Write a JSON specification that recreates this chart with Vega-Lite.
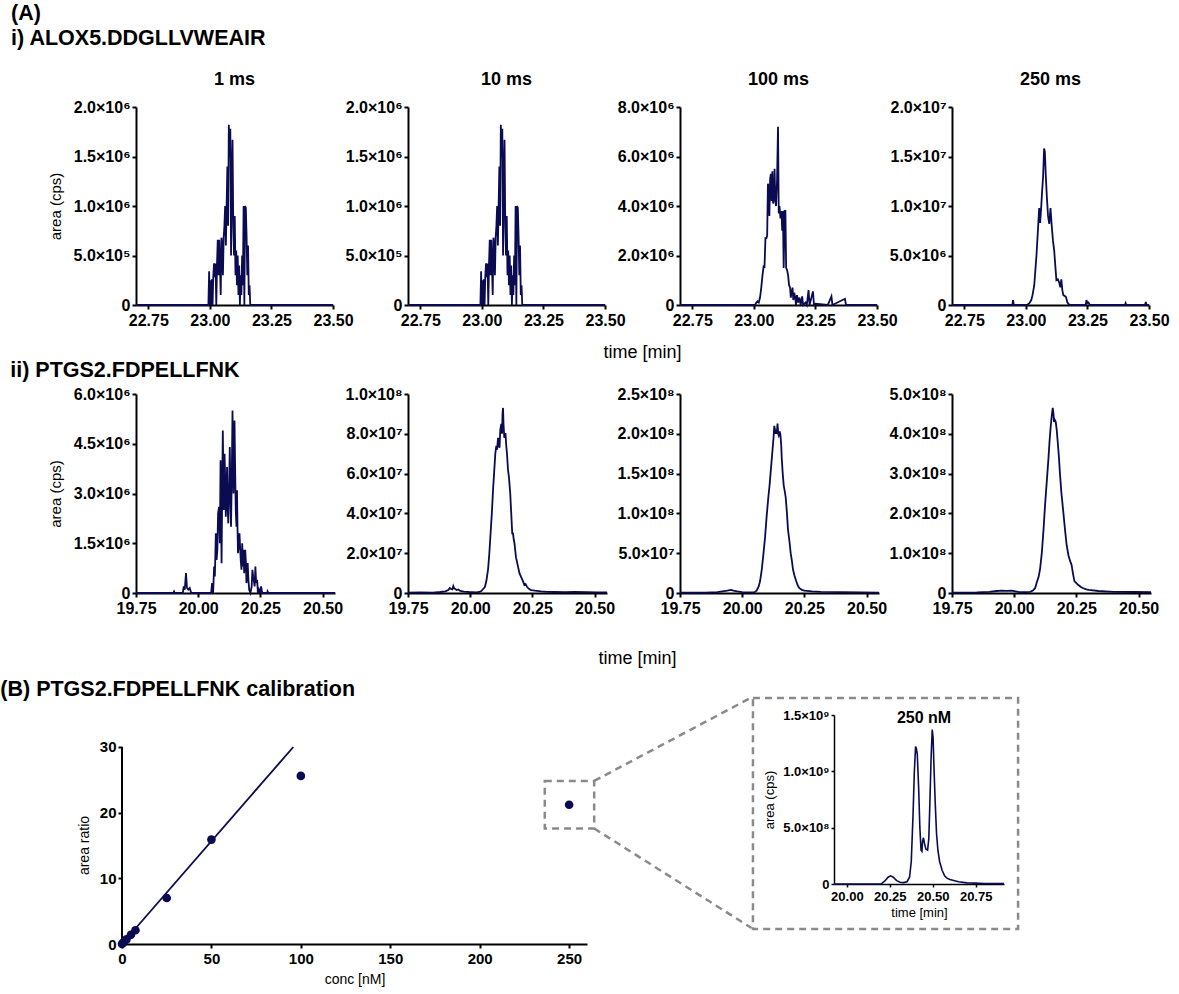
{
 "$schema": "https://vega.github.io/schema/vega-lite/v6.json",
 "background": "white",
 "padding": {"left": 0, "top": 2, "right": 5, "bottom": 2},
 "config": {
  "font": "Liberation Sans",
  "view": {"stroke": null},
  "axis": {"grid": false, "domainColor": "#000", "domainWidth": 2, "tickColor": "#000", "tickWidth": 2, "tickSize": 4, "labelColor": "#000", "labelFont": "Liberation Sans", "labelFontWeight": "bold", "labelFontSize": 16, "labelPadding": 2, "labelFlush": false, "labelOverlap": false, "labelBound": false, "titleColor": "#000", "titleFont": "Liberation Sans", "titleFontWeight": "normal", "titleFontSize": 15, "titlePadding": 10},
  "axisX": {"labelPadding": 3},
  "title": {"color": "#000", "font": "Liberation Sans"}
 },
 "datasets": {
  "a1": [{"t":22.7,"cps":0},{"t":22.994,"cps":0},{"t":22.997,"cps":340000},{"t":22.999,"cps":0},{"t":23.002,"cps":250000},{"t":23.005,"cps":0},{"t":23.008,"cps":260000},{"t":23.011,"cps":0},{"t":23.014,"cps":300000},{"t":23.017,"cps":420000},{"t":23.02,"cps":280000},{"t":23.023,"cps":420000},{"t":23.026,"cps":0},{"t":23.029,"cps":420000},{"t":23.032,"cps":660000},{"t":23.035,"cps":300000},{"t":23.038,"cps":660000},{"t":23.041,"cps":400000},{"t":23.044,"cps":100000},{"t":23.047,"cps":680000},{"t":23.05,"cps":600000},{"t":23.053,"cps":300000},{"t":23.056,"cps":680000},{"t":23.059,"cps":800000},{"t":23.062,"cps":1000000},{"t":23.065,"cps":600000},{"t":23.068,"cps":1000000},{"t":23.071,"cps":1400000},{"t":23.074,"cps":800000},{"t":23.077,"cps":1820000},{"t":23.08,"cps":1500000},{"t":23.083,"cps":1780000},{"t":23.086,"cps":500000},{"t":23.089,"cps":1300000},{"t":23.092,"cps":1670000},{"t":23.095,"cps":800000},{"t":23.098,"cps":500000},{"t":23.101,"cps":900000},{"t":23.104,"cps":300000},{"t":23.107,"cps":550000},{"t":23.11,"cps":200000},{"t":23.113,"cps":500000},{"t":23.116,"cps":100000},{"t":23.119,"cps":400000},{"t":23.122,"cps":0},{"t":23.125,"cps":300000},{"t":23.128,"cps":100000},{"t":23.131,"cps":500000},{"t":23.134,"cps":200000},{"t":23.137,"cps":1000000},{"t":23.14,"cps":0},{"t":23.143,"cps":1000000},{"t":23.146,"cps":980000},{"t":23.149,"cps":700000},{"t":23.152,"cps":300000},{"t":23.155,"cps":600000},{"t":23.158,"cps":100000},{"t":23.161,"cps":200000},{"t":23.164,"cps":0},{"t":23.5,"cps":0}],
  "a100": [{"t":22.7,"cps":0},{"t":23.005,"cps":0},{"t":23.01,"cps":100000},{"t":23.015,"cps":150000},{"t":23.02,"cps":100000},{"t":23.025,"cps":300000},{"t":23.03,"cps":700000},{"t":23.035,"cps":1200000},{"t":23.04,"cps":1600000},{"t":23.043,"cps":1500000},{"t":23.047,"cps":2700000},{"t":23.051,"cps":2700000},{"t":23.054,"cps":2800000},{"t":23.057,"cps":4900000},{"t":23.06,"cps":4800000},{"t":23.063,"cps":3600000},{"t":23.066,"cps":5100000},{"t":23.069,"cps":5300000},{"t":23.072,"cps":4200000},{"t":23.075,"cps":5400000},{"t":23.078,"cps":4100000},{"t":23.081,"cps":4300000},{"t":23.084,"cps":5500000},{"t":23.087,"cps":4200000},{"t":23.09,"cps":4000000},{"t":23.094,"cps":5000000},{"t":23.098,"cps":7200000},{"t":23.101,"cps":3700000},{"t":23.104,"cps":4000000},{"t":23.108,"cps":3500000},{"t":23.112,"cps":3800000},{"t":23.115,"cps":3000000},{"t":23.118,"cps":3800000},{"t":23.121,"cps":1500000},{"t":23.125,"cps":3800000},{"t":23.128,"cps":3800000},{"t":23.131,"cps":1500000},{"t":23.135,"cps":1400000},{"t":23.139,"cps":1200000},{"t":23.143,"cps":800000},{"t":23.147,"cps":700000},{"t":23.15,"cps":300000},{"t":23.153,"cps":500000},{"t":23.157,"cps":700000},{"t":23.16,"cps":200000},{"t":23.164,"cps":500000},{"t":23.168,"cps":300000},{"t":23.171,"cps":0},{"t":23.175,"cps":400000},{"t":23.18,"cps":100000},{"t":23.185,"cps":300000},{"t":23.19,"cps":0},{"t":23.196,"cps":350000},{"t":23.2,"cps":0},{"t":23.21,"cps":100000},{"t":23.215,"cps":0},{"t":23.222,"cps":600000},{"t":23.226,"cps":0},{"t":23.24,"cps":550000},{"t":23.244,"cps":0},{"t":23.25,"cps":50000},{"t":23.3,"cps":0},{"t":23.315,"cps":350000},{"t":23.319,"cps":0},{"t":23.37,"cps":250000},{"t":23.374,"cps":0},{"t":23.5,"cps":0}],
  "a250": [{"t":22.7,"cps":0},{"t":22.945,"cps":0},{"t":22.948,"cps":500000},{"t":22.951,"cps":0},{"t":23.005,"cps":0},{"t":23.015,"cps":200000},{"t":23.022,"cps":500000},{"t":23.027,"cps":1000000},{"t":23.034,"cps":2000000},{"t":23.043,"cps":5000000},{"t":23.05,"cps":8000000},{"t":23.054,"cps":9800000},{"t":23.058,"cps":8300000},{"t":23.062,"cps":9800000},{"t":23.066,"cps":11500000},{"t":23.07,"cps":13000000},{"t":23.074,"cps":15800000},{"t":23.077,"cps":15500000},{"t":23.081,"cps":13000000},{"t":23.085,"cps":11000000},{"t":23.09,"cps":9000000},{"t":23.095,"cps":8200000},{"t":23.1,"cps":9800000},{"t":23.105,"cps":8000000},{"t":23.11,"cps":6500000},{"t":23.115,"cps":5500000},{"t":23.12,"cps":3800000},{"t":23.124,"cps":2500000},{"t":23.13,"cps":2600000},{"t":23.135,"cps":2300000},{"t":23.14,"cps":1800000},{"t":23.144,"cps":2600000},{"t":23.148,"cps":1500000},{"t":23.152,"cps":1000000},{"t":23.158,"cps":900000},{"t":23.163,"cps":800000},{"t":23.168,"cps":300000},{"t":23.173,"cps":100000},{"t":23.18,"cps":0},{"t":23.243,"cps":0},{"t":23.246,"cps":500000},{"t":23.25,"cps":200000},{"t":23.254,"cps":250000},{"t":23.26,"cps":0},{"t":23.402,"cps":0},{"t":23.405,"cps":200000},{"t":23.408,"cps":0},{"t":23.484,"cps":0},{"t":23.487,"cps":300000},{"t":23.49,"cps":0},{"t":23.5,"cps":0}],
  "p1": [{"t":19.75,"cps":0},{"t":19.9,"cps":0},{"t":19.903,"cps":50000},{"t":19.906,"cps":0},{"t":19.938,"cps":0},{"t":19.942,"cps":200000},{"t":19.946,"cps":100000},{"t":19.951,"cps":600000},{"t":19.955,"cps":150000},{"t":19.96,"cps":100000},{"t":19.966,"cps":150000},{"t":19.972,"cps":0},{"t":20.052,"cps":0},{"t":20.056,"cps":300000},{"t":20.06,"cps":0},{"t":20.064,"cps":800000},{"t":20.067,"cps":500000},{"t":20.071,"cps":1800000},{"t":20.074,"cps":1000000},{"t":20.077,"cps":1300000},{"t":20.08,"cps":2400000},{"t":20.084,"cps":2600000},{"t":20.087,"cps":1500000},{"t":20.09,"cps":4000000},{"t":20.094,"cps":900000},{"t":20.097,"cps":3500000},{"t":20.099,"cps":4900000},{"t":20.103,"cps":2500000},{"t":20.106,"cps":4200000},{"t":20.109,"cps":3300000},{"t":20.111,"cps":2300000},{"t":20.114,"cps":3000000},{"t":20.116,"cps":3800000},{"t":20.119,"cps":2500000},{"t":20.121,"cps":2100000},{"t":20.124,"cps":3000000},{"t":20.127,"cps":4400000},{"t":20.13,"cps":2800000},{"t":20.132,"cps":2000000},{"t":20.135,"cps":3500000},{"t":20.138,"cps":5500000},{"t":20.14,"cps":4200000},{"t":20.142,"cps":3000000},{"t":20.146,"cps":5200000},{"t":20.149,"cps":3500000},{"t":20.151,"cps":2500000},{"t":20.154,"cps":2000000},{"t":20.156,"cps":3100000},{"t":20.158,"cps":2000000},{"t":20.16,"cps":1200000},{"t":20.163,"cps":1500000},{"t":20.166,"cps":1800000},{"t":20.169,"cps":1300000},{"t":20.171,"cps":1000000},{"t":20.174,"cps":700000},{"t":20.177,"cps":1500000},{"t":20.18,"cps":800000},{"t":20.182,"cps":1300000},{"t":20.185,"cps":600000},{"t":20.189,"cps":1300000},{"t":20.192,"cps":900000},{"t":20.194,"cps":300000},{"t":20.197,"cps":500000},{"t":20.199,"cps":900000},{"t":20.202,"cps":400000},{"t":20.205,"cps":100000},{"t":20.21,"cps":0},{"t":20.215,"cps":200000},{"t":20.218,"cps":700000},{"t":20.221,"cps":500000},{"t":20.223,"cps":400000},{"t":20.227,"cps":200000},{"t":20.23,"cps":800000},{"t":20.233,"cps":300000},{"t":20.237,"cps":400000},{"t":20.24,"cps":0},{"t":20.244,"cps":100000},{"t":20.248,"cps":0},{"t":20.253,"cps":200000},{"t":20.257,"cps":0},{"t":20.277,"cps":0},{"t":20.279,"cps":50000},{"t":20.282,"cps":0},{"t":20.55,"cps":0}],
  "p10": [{"t":19.75,"cps":200000},{"t":19.8,"cps":300000},{"t":19.85,"cps":200000},{"t":19.88,"cps":500000},{"t":19.9,"cps":800000},{"t":19.912,"cps":1500000},{"t":19.918,"cps":2500000},{"t":19.923,"cps":2000000},{"t":19.928,"cps":1800000},{"t":19.932,"cps":3500000},{"t":19.936,"cps":2200000},{"t":19.94,"cps":2000000},{"t":19.946,"cps":1500000},{"t":19.952,"cps":1800000},{"t":19.958,"cps":1200000},{"t":19.965,"cps":1000000},{"t":19.975,"cps":700000},{"t":19.985,"cps":600000},{"t":19.995,"cps":500000},{"t":20.01,"cps":400000},{"t":20.025,"cps":300000},{"t":20.035,"cps":500000},{"t":20.045,"cps":1000000},{"t":20.052,"cps":2000000},{"t":20.059,"cps":3000000},{"t":20.065,"cps":6000000},{"t":20.072,"cps":12000000},{"t":20.077,"cps":20000000},{"t":20.082,"cps":30000000},{"t":20.087,"cps":40000000},{"t":20.092,"cps":52000000},{"t":20.096,"cps":60000000},{"t":20.101,"cps":70000000},{"t":20.105,"cps":74000000},{"t":20.108,"cps":72000000},{"t":20.112,"cps":78000000},{"t":20.115,"cps":74000000},{"t":20.118,"cps":73000000},{"t":20.121,"cps":82000000},{"t":20.125,"cps":85000000},{"t":20.128,"cps":80000000},{"t":20.13,"cps":90000000},{"t":20.132,"cps":93000000},{"t":20.134,"cps":85000000},{"t":20.137,"cps":78000000},{"t":20.14,"cps":80000000},{"t":20.142,"cps":80000000},{"t":20.145,"cps":74000000},{"t":20.148,"cps":70000000},{"t":20.152,"cps":62000000},{"t":20.156,"cps":58000000},{"t":20.161,"cps":50000000},{"t":20.165,"cps":40000000},{"t":20.169,"cps":30000000},{"t":20.172,"cps":30000000},{"t":20.175,"cps":27000000},{"t":20.178,"cps":25000000},{"t":20.184,"cps":18000000},{"t":20.191,"cps":14000000},{"t":20.198,"cps":10000000},{"t":20.205,"cps":8000000},{"t":20.212,"cps":6000000},{"t":20.218,"cps":4000000},{"t":20.223,"cps":4500000},{"t":20.229,"cps":3000000},{"t":20.237,"cps":2000000},{"t":20.245,"cps":1500000},{"t":20.26,"cps":1200000},{"t":20.285,"cps":800000},{"t":20.31,"cps":600000},{"t":20.338,"cps":500000},{"t":20.38,"cps":400000},{"t":20.42,"cps":500000},{"t":20.47,"cps":400000},{"t":20.51,"cps":300000},{"t":20.55,"cps":300000}],
  "p100": [{"t":19.75,"cps":300000},{"t":19.85,"cps":400000},{"t":19.9,"cps":1000000},{"t":19.92,"cps":2000000},{"t":19.94,"cps":3000000},{"t":19.955,"cps":4000000},{"t":19.965,"cps":3000000},{"t":19.98,"cps":2000000},{"t":20.0,"cps":1000000},{"t":20.03,"cps":800000},{"t":20.05,"cps":1000000},{"t":20.058,"cps":3000000},{"t":20.066,"cps":8000000},{"t":20.072,"cps":15000000},{"t":20.079,"cps":30000000},{"t":20.085,"cps":48000000},{"t":20.092,"cps":70000000},{"t":20.098,"cps":95000000},{"t":20.105,"cps":120000000},{"t":20.11,"cps":135000000},{"t":20.114,"cps":150000000},{"t":20.118,"cps":165000000},{"t":20.122,"cps":180000000},{"t":20.126,"cps":195000000},{"t":20.129,"cps":210000000},{"t":20.132,"cps":205000000},{"t":20.134,"cps":200000000},{"t":20.137,"cps":205000000},{"t":20.139,"cps":200000000},{"t":20.142,"cps":213000000},{"t":20.145,"cps":200000000},{"t":20.147,"cps":198000000},{"t":20.151,"cps":203000000},{"t":20.154,"cps":198000000},{"t":20.157,"cps":185000000},{"t":20.159,"cps":170000000},{"t":20.163,"cps":150000000},{"t":20.167,"cps":135000000},{"t":20.171,"cps":128000000},{"t":20.175,"cps":120000000},{"t":20.18,"cps":100000000},{"t":20.184,"cps":80000000},{"t":20.19,"cps":65000000},{"t":20.195,"cps":50000000},{"t":20.2,"cps":40000000},{"t":20.204,"cps":30000000},{"t":20.21,"cps":22000000},{"t":20.217,"cps":15000000},{"t":20.224,"cps":9000000},{"t":20.23,"cps":6000000},{"t":20.24,"cps":4000000},{"t":20.25,"cps":3000000},{"t":20.28,"cps":2000000},{"t":20.316,"cps":1500000},{"t":20.4,"cps":1000000},{"t":20.48,"cps":800000},{"t":20.55,"cps":500000}],
  "p250": [{"t":19.75,"cps":1000000},{"t":19.85,"cps":1500000},{"t":19.9,"cps":3000000},{"t":19.93,"cps":5000000},{"t":19.95,"cps":6000000},{"t":19.97,"cps":5500000},{"t":19.99,"cps":6000000},{"t":20.0,"cps":5000000},{"t":20.02,"cps":2000000},{"t":20.05,"cps":2000000},{"t":20.065,"cps":3000000},{"t":20.075,"cps":6000000},{"t":20.084,"cps":12000000},{"t":20.09,"cps":25000000},{"t":20.098,"cps":40000000},{"t":20.104,"cps":60000000},{"t":20.111,"cps":100000000},{"t":20.118,"cps":160000000},{"t":20.124,"cps":220000000},{"t":20.131,"cps":280000000},{"t":20.138,"cps":340000000},{"t":20.142,"cps":380000000},{"t":20.147,"cps":420000000},{"t":20.151,"cps":445000000},{"t":20.155,"cps":465000000},{"t":20.158,"cps":450000000},{"t":20.16,"cps":430000000},{"t":20.163,"cps":435000000},{"t":20.167,"cps":430000000},{"t":20.171,"cps":410000000},{"t":20.175,"cps":380000000},{"t":20.18,"cps":340000000},{"t":20.184,"cps":300000000},{"t":20.19,"cps":250000000},{"t":20.198,"cps":200000000},{"t":20.205,"cps":155000000},{"t":20.211,"cps":120000000},{"t":20.218,"cps":95000000},{"t":20.225,"cps":80000000},{"t":20.228,"cps":75000000},{"t":20.231,"cps":70000000},{"t":20.236,"cps":50000000},{"t":20.242,"cps":30000000},{"t":20.25,"cps":25000000},{"t":20.258,"cps":20000000},{"t":20.268,"cps":15000000},{"t":20.278,"cps":12000000},{"t":20.29,"cps":9000000},{"t":20.3,"cps":8000000},{"t":20.338,"cps":5000000},{"t":20.4,"cps":3000000},{"t":20.48,"cps":2500000},{"t":20.55,"cps":2000000}],
  "inset": [{"t":19.925,"cps":0},{"t":20.15,"cps":0},{"t":20.2,"cps":2000000},{"t":20.22,"cps":25000000},{"t":20.24,"cps":60000000},{"t":20.255,"cps":72000000},{"t":20.27,"cps":60000000},{"t":20.29,"cps":30000000},{"t":20.31,"cps":15000000},{"t":20.33,"cps":12000000},{"t":20.35,"cps":20000000},{"t":20.365,"cps":60000000},{"t":20.375,"cps":200000000},{"t":20.385,"cps":600000000},{"t":20.393,"cps":1000000000},{"t":20.4,"cps":1220000000},{"t":20.405,"cps":1200000000},{"t":20.41,"cps":1150000000},{"t":20.418,"cps":850000000},{"t":20.425,"cps":500000000},{"t":20.432,"cps":300000000},{"t":20.437,"cps":290000000},{"t":20.441,"cps":380000000},{"t":20.446,"cps":410000000},{"t":20.452,"cps":360000000},{"t":20.46,"cps":310000000},{"t":20.47,"cps":300000000},{"t":20.477,"cps":400000000},{"t":20.483,"cps":700000000},{"t":20.49,"cps":1100000000},{"t":20.497,"cps":1370000000},{"t":20.502,"cps":1300000000},{"t":20.508,"cps":1000000000},{"t":20.515,"cps":700000000},{"t":20.522,"cps":450000000},{"t":20.53,"cps":300000000},{"t":20.54,"cps":200000000},{"t":20.555,"cps":120000000},{"t":20.57,"cps":70000000},{"t":20.585,"cps":50000000},{"t":20.6,"cps":40000000},{"t":20.65,"cps":20000000},{"t":20.7,"cps":10000000},{"t":20.75,"cps":8000000},{"t":20.8,"cps":5000000},{"t":20.915,"cps":3000000}],
  "insetbox": [{"t":19.453,"t2":20.997,"cps":-399000000,"cps2":1651000000}],
  "calib": [{"conc":0,"ratio":0},{"conc":0.5,"ratio":0.15},{"conc":1,"ratio":0.3},{"conc":2.5,"ratio":0.7},{"conc":5,"ratio":1.4},{"conc":7.5,"ratio":2.1},{"conc":25,"ratio":7.0},{"conc":50,"ratio":15.9},{"conc":100,"ratio":25.6},{"conc":250,"ratio":21.2}],
  "fit": [{"conc":0,"ratio":0},{"conc":95.8,"ratio":30}],
  "yaxisline": [{"conc":0,"ratio":0,"ratio2":30}],
  "zoombox": [{"conc":236.4,"conc2":264,"ratio":17.59,"ratio2":24.83}],
  "connectors": [{"conc":264,"ratio":24.83,"conc2":352,"ratio2":37.55},{"conc":264,"ratio":17.59,"conc2":352,"ratio2":2.43}]
 },
 "columns": 1,
 "spacing": 10,
 "concat": [
  {
   "spacing": -3,
   "vconcat": [
    {
     "title": {"text": ["(A)", "i) ALOX5.DDGLLVWEAIR"], "anchor": "start", "fontSize": 21.5, "fontWeight": "bold", "lineHeight": 25, "dx": -37, "offset": 22},
     "vconcat": [
      {
       "title": {"text": "time [min]", "orient": "bottom", "anchor": "middle", "frame": "bounds", "fontSize": 18, "fontWeight": "normal", "offset": 16, "dx": 34},
       "bounds": "flush",
       "spacing": 75,
       "hconcat": [
        {
         "title": {"text": "1 ms", "fontSize": 18, "fontWeight": "bold", "offset": 10},
         "width": 197, "height": 198,
         "data": {"name": "a1"},
         "mark": {"type": "line", "color": "#0b0b52", "strokeWidth": 1.8},
         "encoding": {
          "x": {"field": "t", "type": "quantitative", "scale": {"domain": [22.7, 23.5], "nice": false, "zero": false}, "axis": {"values": [22.75, 23, 23.25, 23.5], "format": ".2f", "title": null}},
          "y": {"field": "cps", "type": "quantitative", "scale": {"domain": [0, 2000000], "nice": false}, "axis": {"values": [0, 500000, 1000000, 1500000, 2000000], "labelExpr": "datum.value == 0 ? '0' : format(datum.value / pow(10, floor(log(datum.value) / LN10 + 1e-9)), '.1f') + '×10' + ['⁰','¹','²','³','⁴','⁵','⁶','⁷','⁸','⁹'][floor(log(datum.value) / LN10 + 1e-9)]", "title": "area (cps)"}}
         }
        },
        {
         "title": {"text": "10 ms", "fontSize": 18, "fontWeight": "bold", "offset": 10},
         "width": 197, "height": 198,
         "data": {"name": "a1"},
         "mark": {"type": "line", "color": "#0b0b52", "strokeWidth": 1.8},
         "encoding": {
          "x": {"field": "t", "type": "quantitative", "scale": {"domain": [22.7, 23.5], "nice": false, "zero": false}, "axis": {"values": [22.75, 23, 23.25, 23.5], "format": ".2f", "title": null}},
          "y": {"field": "cps", "type": "quantitative", "scale": {"domain": [0, 2000000], "nice": false}, "axis": {"values": [0, 500000, 1000000, 1500000, 2000000], "labelExpr": "datum.value == 0 ? '0' : format(datum.value / pow(10, floor(log(datum.value) / LN10 + 1e-9)), '.1f') + '×10' + ['⁰','¹','²','³','⁴','⁵','⁶','⁷','⁸','⁹'][floor(log(datum.value) / LN10 + 1e-9)]", "title": null}}
         }
        },
        {
         "title": {"text": "100 ms", "fontSize": 18, "fontWeight": "bold", "offset": 10},
         "width": 197, "height": 198,
         "data": {"name": "a100"},
         "mark": {"type": "line", "color": "#0b0b52", "strokeWidth": 1.8},
         "encoding": {
          "x": {"field": "t", "type": "quantitative", "scale": {"domain": [22.7, 23.5], "nice": false, "zero": false}, "axis": {"values": [22.75, 23, 23.25, 23.5], "format": ".2f", "title": null}},
          "y": {"field": "cps", "type": "quantitative", "scale": {"domain": [0, 8000000], "nice": false}, "axis": {"values": [0, 2000000, 4000000, 6000000, 8000000], "labelExpr": "datum.value == 0 ? '0' : format(datum.value / pow(10, floor(log(datum.value) / LN10 + 1e-9)), '.1f') + '×10' + ['⁰','¹','²','³','⁴','⁵','⁶','⁷','⁸','⁹'][floor(log(datum.value) / LN10 + 1e-9)]", "title": null}}
         }
        },
        {
         "title": {"text": "250 ms", "fontSize": 18, "fontWeight": "bold", "offset": 10},
         "width": 197, "height": 198,
         "data": {"name": "a250"},
         "mark": {"type": "line", "color": "#0b0b52", "strokeWidth": 1.8},
         "encoding": {
          "x": {"field": "t", "type": "quantitative", "scale": {"domain": [22.7, 23.5], "nice": false, "zero": false}, "axis": {"values": [22.75, 23, 23.25, 23.5], "format": ".2f", "title": null}},
          "y": {"field": "cps", "type": "quantitative", "scale": {"domain": [0, 20000000], "nice": false}, "axis": {"values": [0, 5000000, 10000000, 15000000, 20000000], "labelExpr": "datum.value == 0 ? '0' : format(datum.value / pow(10, floor(log(datum.value) / LN10 + 1e-9)), '.1f') + '×10' + ['⁰','¹','²','³','⁴','⁵','⁶','⁷','⁸','⁹'][floor(log(datum.value) / LN10 + 1e-9)]", "title": null}}
         }
        }
       ]
      }
     ]
    },
    {
     "title": {"text": "ii) PTGS2.FDPELLFNK", "anchor": "start", "fontSize": 21.5, "fontWeight": "bold", "dx": -38, "offset": 5},
     "vconcat": [
      {
       "title": {"text": "time [min]", "orient": "bottom", "anchor": "middle", "frame": "bounds", "fontSize": 18, "fontWeight": "normal", "offset": 34, "dx": 34},
       "bounds": "flush",
       "spacing": 73,
       "hconcat": [
        {
         "width": 199, "height": 199,
         "data": {"name": "p1"},
         "mark": {"type": "line", "color": "#0b0b52", "strokeWidth": 1.8},
         "encoding": {
          "x": {"field": "t", "type": "quantitative", "scale": {"domain": [19.75, 20.55], "nice": false, "zero": false}, "axis": {"values": [19.75, 20, 20.25, 20.5], "format": ".2f", "title": null}},
          "y": {"field": "cps", "type": "quantitative", "scale": {"domain": [0, 6000000], "nice": false}, "axis": {"values": [0, 1500000, 3000000, 4500000, 6000000], "labelExpr": "datum.value == 0 ? '0' : format(datum.value / pow(10, floor(log(datum.value) / LN10 + 1e-9)), '.1f') + '×10' + ['⁰','¹','²','³','⁴','⁵','⁶','⁷','⁸','⁹'][floor(log(datum.value) / LN10 + 1e-9)]", "title": "area (cps)"}}
         }
        },
        {
         "width": 199, "height": 199,
         "data": {"name": "p10"},
         "mark": {"type": "line", "color": "#0b0b52", "strokeWidth": 1.8},
         "encoding": {
          "x": {"field": "t", "type": "quantitative", "scale": {"domain": [19.75, 20.55], "nice": false, "zero": false}, "axis": {"values": [19.75, 20, 20.25, 20.5], "format": ".2f", "title": null}},
          "y": {"field": "cps", "type": "quantitative", "scale": {"domain": [0, 100000000], "nice": false}, "axis": {"values": [0, 20000000, 40000000, 60000000, 80000000, 100000000], "labelExpr": "datum.value == 0 ? '0' : format(datum.value / pow(10, floor(log(datum.value) / LN10 + 1e-9)), '.1f') + '×10' + ['⁰','¹','²','³','⁴','⁵','⁶','⁷','⁸','⁹'][floor(log(datum.value) / LN10 + 1e-9)]", "title": null}}
         }
        },
        {
         "width": 199, "height": 199,
         "data": {"name": "p100"},
         "mark": {"type": "line", "color": "#0b0b52", "strokeWidth": 1.8},
         "encoding": {
          "x": {"field": "t", "type": "quantitative", "scale": {"domain": [19.75, 20.55], "nice": false, "zero": false}, "axis": {"values": [19.75, 20, 20.25, 20.5], "format": ".2f", "title": null}},
          "y": {"field": "cps", "type": "quantitative", "scale": {"domain": [0, 250000000], "nice": false}, "axis": {"values": [0, 50000000, 100000000, 150000000, 200000000, 250000000], "labelExpr": "datum.value == 0 ? '0' : format(datum.value / pow(10, floor(log(datum.value) / LN10 + 1e-9)), '.1f') + '×10' + ['⁰','¹','²','³','⁴','⁵','⁶','⁷','⁸','⁹'][floor(log(datum.value) / LN10 + 1e-9)]", "title": null}}
         }
        },
        {
         "width": 199, "height": 199,
         "data": {"name": "p250"},
         "mark": {"type": "line", "color": "#0b0b52", "strokeWidth": 1.8},
         "encoding": {
          "x": {"field": "t", "type": "quantitative", "scale": {"domain": [19.75, 20.55], "nice": false, "zero": false}, "axis": {"values": [19.75, 20, 20.25, 20.5], "format": ".2f", "title": null}},
          "y": {"field": "cps", "type": "quantitative", "scale": {"domain": [0, 500000000], "nice": false}, "axis": {"values": [0, 100000000, 200000000, 300000000, 400000000, 500000000], "labelExpr": "datum.value == 0 ? '0' : format(datum.value / pow(10, floor(log(datum.value) / LN10 + 1e-9)), '.1f') + '×10' + ['⁰','¹','²','³','⁴','⁵','⁶','⁷','⁸','⁹'][floor(log(datum.value) / LN10 + 1e-9)]", "title": null}}
         }
        }
       ]
      }
     ]
    }
   ]
  },
  {
   "title": {"text": "(B) PTGS2.FDPELLFNK calibration", "anchor": "start", "fontSize": 21.5, "fontWeight": "bold", "dx": -77, "offset": -4},
   "spacing": -2,
   "hconcat": [
    {
     "width": 465, "height": 229,
     "layer": [
      {"data": {"name": "yaxisline"}, "mark": {"type": "rule", "color": "#000", "strokeWidth": 2, "clip": false},
       "encoding": {
        "x": {"field": "conc", "type": "quantitative", "scale": {"domain": [0, 260], "range": [-14, 451], "nice": false, "zero": false}, "axis": {"values": [0, 50, 100, 150, 200, 250], "title": "conc [nM]", "labelFontSize": 15, "titleFontSize": 14, "titlePadding": 6}},
        "y": {"field": "ratio", "type": "quantitative", "scale": {"domain": [0, 34.87], "nice": false}, "axis": {"values": [0, 10, 20, 30], "domain": false, "offset": 14, "title": "area ratio", "titleY": 130, "labelFontSize": 15, "titleFontSize": 14, "titlePadding": 8}},
        "y2": {"field": "ratio2"}
       }},
      {"data": {"name": "fit"}, "mark": {"type": "line", "color": "#0b0b52", "strokeWidth": 1.8, "clip": false},
       "encoding": {
        "x": {"field": "conc", "type": "quantitative", "scale": {"domain": [0, 260], "range": [-14, 451], "nice": false, "zero": false}, "axis": {"values": [0, 50, 100, 150, 200, 250], "title": "conc [nM]", "labelFontSize": 15, "titleFontSize": 14, "titlePadding": 6}},
        "y": {"field": "ratio", "type": "quantitative", "scale": {"domain": [0, 34.87], "nice": false}, "axis": {"values": [0, 10, 20, 30], "domain": false, "offset": 14, "title": "area ratio", "titleY": 130, "labelFontSize": 15, "titleFontSize": 14, "titlePadding": 8}}
       }},
      {"data": {"name": "calib"}, "mark": {"type": "circle", "color": "#0b0b52", "size": 75, "opacity": 1, "clip": false},
       "encoding": {
        "x": {"field": "conc", "type": "quantitative", "scale": {"domain": [0, 260], "range": [-14, 451], "nice": false, "zero": false}, "axis": {"values": [0, 50, 100, 150, 200, 250], "title": "conc [nM]", "labelFontSize": 15, "titleFontSize": 14, "titlePadding": 6}},
        "y": {"field": "ratio", "type": "quantitative", "scale": {"domain": [0, 34.87], "nice": false}, "axis": {"values": [0, 10, 20, 30], "domain": false, "offset": 14, "title": "area ratio", "titleY": 130, "labelFontSize": 15, "titleFontSize": 14, "titlePadding": 8}}
       }},
      {"data": {"name": "zoombox"}, "mark": {"type": "rect", "fillOpacity": 0, "stroke": "#8a8a8a", "strokeWidth": 2.5, "strokeDash": [7, 5], "clip": false},
       "encoding": {
        "x": {"field": "conc", "type": "quantitative", "scale": {"domain": [0, 260], "range": [-14, 451], "nice": false, "zero": false}, "axis": {"values": [0, 50, 100, 150, 200, 250], "title": "conc [nM]", "labelFontSize": 15, "titleFontSize": 14, "titlePadding": 6}},
        "x2": {"field": "conc2"},
        "y": {"field": "ratio", "type": "quantitative", "scale": {"domain": [0, 34.87], "nice": false}, "axis": {"values": [0, 10, 20, 30], "domain": false, "offset": 14, "title": "area ratio", "titleY": 130, "labelFontSize": 15, "titleFontSize": 14, "titlePadding": 8}},
        "y2": {"field": "ratio2"}
       }},
      {"data": {"name": "connectors"}, "mark": {"type": "rule", "stroke": "#8a8a8a", "strokeWidth": 2.5, "strokeDash": [7, 5], "clip": false},
       "encoding": {
        "x": {"field": "conc", "type": "quantitative", "scale": {"domain": [0, 260], "range": [-14, 451], "nice": false, "zero": false}, "axis": {"values": [0, 50, 100, 150, 200, 250], "title": "conc [nM]", "labelFontSize": 15, "titleFontSize": 14, "titlePadding": 6}},
        "x2": {"field": "conc2"},
        "y": {"field": "ratio", "type": "quantitative", "scale": {"domain": [0, 34.87], "nice": false}, "axis": {"values": [0, 10, 20, 30], "domain": false, "offset": 14, "title": "area ratio", "titleY": 130, "labelFontSize": 15, "titleFontSize": 14, "titlePadding": 8}},
        "y2": {"field": "ratio2"}
       }}
     ]
    },
    {
     "width": 170, "height": 169,
     "title": {"text": "250 nM", "fontSize": 16, "fontWeight": "bold", "anchor": "middle", "frame": "group", "offset": -29, "dx": 5},
     "layer": [
      {"data": {"name": "insetbox"}, "mark": {"type": "rect", "fillOpacity": 0, "stroke": "#8a8a8a", "strokeWidth": 2.5, "strokeDash": [7, 5], "clip": false},
       "encoding": {
        "x": {"field": "t", "type": "quantitative", "scale": {"domain": [19.925, 20.915], "nice": false, "zero": false}, "axis": {"values": [20, 20.25, 20.5, 20.75], "format": ".2f", "title": "time [min]", "labelFontSize": 13, "titleFontSize": 13, "tickSize": 3, "tickWidth": 1.5, "domainWidth": 1.5, "labelPadding": 3, "titlePadding": 3}},
        "x2": {"field": "t2"},
        "y": {"field": "cps", "type": "quantitative", "scale": {"domain": [0, 1500000000], "nice": false}, "axis": {"values": [0, 500000000, 1000000000, 1500000000], "labelExpr": "datum.value == 0 ? '0' : format(datum.value / pow(10, floor(log(datum.value) / LN10 + 1e-9)), '.1f') + '×10' + ['⁰','¹','²','³','⁴','⁵','⁶','⁷','⁸','⁹'][floor(log(datum.value) / LN10 + 1e-9)]", "title": "area (cps)", "labelFontSize": 13, "titleFontSize": 13, "tickSize": 3, "tickWidth": 1.5, "domainWidth": 1.5, "titlePadding": 6}},
        "y2": {"field": "cps2"}
       }},
      {"data": {"name": "inset"}, "mark": {"type": "line", "color": "#0b0b52", "strokeWidth": 1.6},
       "encoding": {
        "x": {"field": "t", "type": "quantitative", "scale": {"domain": [19.925, 20.915], "nice": false, "zero": false}, "axis": {"values": [20, 20.25, 20.5, 20.75], "format": ".2f", "title": "time [min]", "labelFontSize": 13, "titleFontSize": 13, "tickSize": 3, "tickWidth": 1.5, "domainWidth": 1.5, "labelPadding": 3, "titlePadding": 3}},
        "y": {"field": "cps", "type": "quantitative", "scale": {"domain": [0, 1500000000], "nice": false}, "axis": {"values": [0, 500000000, 1000000000, 1500000000], "labelExpr": "datum.value == 0 ? '0' : format(datum.value / pow(10, floor(log(datum.value) / LN10 + 1e-9)), '.1f') + '×10' + ['⁰','¹','²','³','⁴','⁵','⁶','⁷','⁸','⁹'][floor(log(datum.value) / LN10 + 1e-9)]", "title": "area (cps)", "labelFontSize": 13, "titleFontSize": 13, "tickSize": 3, "tickWidth": 1.5, "domainWidth": 1.5, "titlePadding": 6}}
       }}
     ]
    }
   ]
  }
 ]
}
